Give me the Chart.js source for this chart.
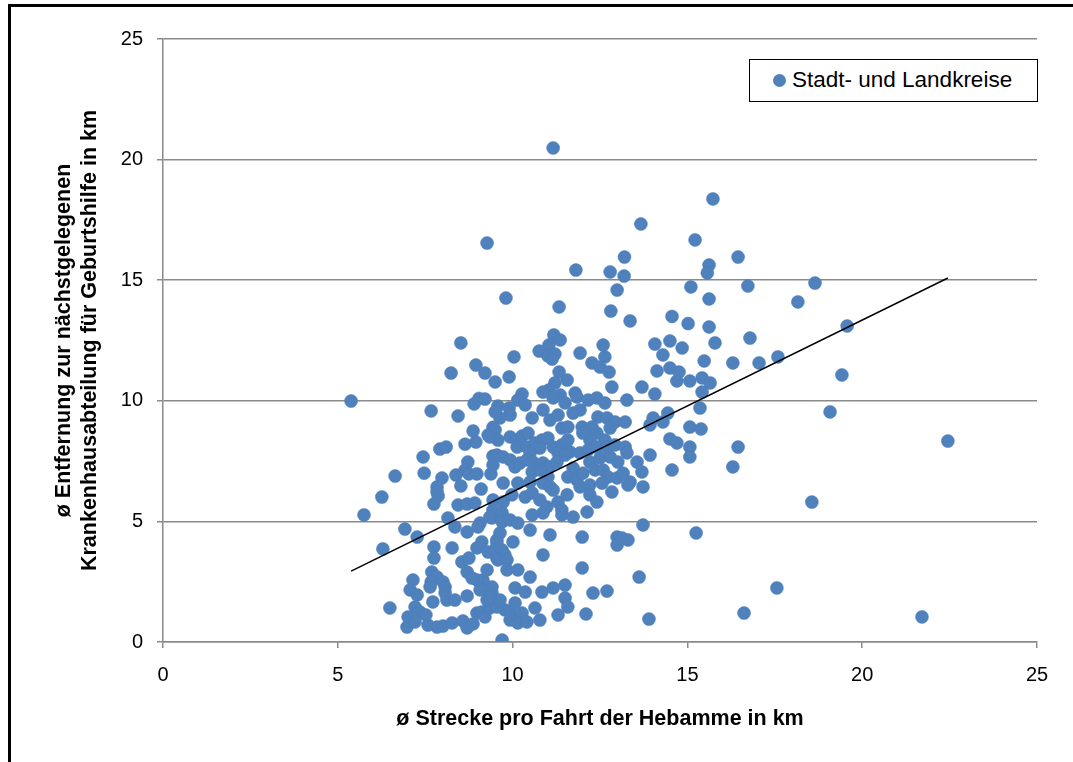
<!DOCTYPE html>
<html>
<head>
<meta charset="utf-8">
<script src="https://cdn.jsdelivr.net/npm/chart.js@4/dist/chart.umd.min.js"></script>
<style>
  body { margin: 0; background: #fff; }
  #wrap { position: relative; width: 1073px; height: 762px; font-family: "Liberation Sans", Arial, sans-serif; }
  #frame { position: absolute; left: 8px; top: 4px; right: -5px; bottom: -5px; border-left: 3px solid #000; border-top: 3px solid #000; }
  #legend { position: absolute; left: 749px; top: 59px; width: 289px; height: 43px; border: 1.5px solid #000; background: #fff; box-sizing: border-box; display: flex; align-items: center; }
  #legend .dot { margin-left: 23px; width: 13px; height: 13px; border-radius: 50%; background: #4F81BD; flex: none; }
  #legend .txt { margin-left: 6px; font-size: 22.5px; color: #000; white-space: nowrap; line-height: 1; }
</style>
</head>
<body>
<div id="wrap">
  <canvas id="chart" width="1073" height="762"></canvas>
  <div id="frame"></div>
  <div id="legend"><span class="dot"></span><span class="txt">Stadt- und Landkreise</span></div>
</div>
<script>
// ø Strecke pro Fahrt (x) und ø Entfernung zur Geburtshilfe (y), je Kreis
const strecke = [
  11.16, 9.27, 13.67, 15.73, 15.22, 16.45, 15.62, 15.57, 13.2, 11.81, 12.79, 13.19, 9.81, 12.99, 15.1, 15.62,
  16.73, 18.16, 18.65, 11.33, 12.81, 13.36, 14.56, 15.02, 15.62, 19.57, 16.79, 15.79, 17.05, 17.59, 16.3,
  14.07, 14.5, 14.85, 14.3, 15.48, 14.13, 14.5, 14.76, 14.7, 15.07, 15.42, 15.65, 15.42, 14.07, 19.42,
  15.36, 14.44, 14.02, 14.3, 13.93, 15.07, 15.39, 19.08, 14.5, 14.7, 15.07, 15.07, 13.93, 16.45, 16.3, 14.56, 22.45,
  8.52, 8.95, 8.24, 9.21, 9.5, 5.38, 8.9, 9.04, 9.21, 7.67, 8.44, 8.87, 9.3, 9.44, 8.64, 8.95, 7.92, 8.1,
  7.44, 8.72, 9.44, 9.44, 6.64, 7.47, 7.98, 8.38, 8.64, 8.75, 8.98, 9.38, 7.84, 8.52, 9.1,
  6.26, 5.75, 6.92, 7.27, 6.29, 7.84, 7.87, 7.75, 8.44, 8.7, 8.92, 8.15, 8.35, 8.27, 8.7, 9.07, 9.01, 9.41, 9.44,
  7.75, 7.75, 8.55, 8.75, 8.98, 9.12, 9.3, 9.55, 7.69, 7.84, 7.67, 8.01, 8.07, 7.64, 7.15, 7.07, 7.27, 7.21,
  7.35, 7.52, 6.49, 7.01, 6.98, 7.21, 7.72, 8.12, 8.35, 8.7, 8.07, 7.58, 7.84, 8.01, 8.27, 8.58, 8.7, 8.87,
  8.98, 9.12, 9.21, 9.35, 9.27, 9.41, 9.41, 9.15, 9.27, 8.98, 8.7, 8.84, 9.07, 9.55, 9.5,
  11.18, 11.36, 11.04, 10.76, 11.01, 11.21, 11.13, 10.04, 11.93, 12.59, 12.64, 12.27, 12.5, 12.76, 11.33,
  11.56, 11.21, 11.04, 10.87, 11.36, 11.16, 11.5, 11.79, 11.84, 9.9, 10.27, 10.15, 10.36, 12.84, 13.7, 13.27,
  12.16, 12.41, 12.64, 9.58, 9.9, 9.93, 9.64, 9.5, 10.56, 10.87, 11.07, 11.3, 11.41, 11.58, 11.93, 11.73,
  11.99, 12.44, 12.7, 12.93, 13.22, 12.79, 12.27, 12.41, 12.64, 12.21, 12.01, 9.5, 9.58, 9.35, 9.93, 10.13,
  10.27, 10.44, 10.13, 10.41, 10.64, 10.84, 11.01, 10.78, 10.5, 11.16, 11.41, 11.58, 11.64, 11.3, 11.5,
  11.93, 12.16, 12.41, 12.7, 12.93, 13.22, 12.21, 12.5, 12.79, 13.01, 13.27, 13.56, 9.55, 9.73, 9.93, 10.07,
  10.21, 10.41, 10.58, 10.87, 11.07, 11.27, 10.56, 10.78, 11.01, 11.73, 11.58, 11.84, 12.01, 12.36, 12.59,
  12.73, 12.99, 13.16, 13.36, 13.7, 13.3, 9.73, 10.15, 10.5, 10.87, 11.07, 11.93, 12.21, 12.56, 13.73,
  11.16, 11.56, 12.21, 12.41, 12.84, 9.44, 9.73, 9.98, 10.36, 10.56, 10.78, 10.98, 10.87, 10.56, 10.5,
  11.3, 11.41, 11.41, 11.73, 12.13, 9.35, 9.7, 9.7, 9.93, 10.15, 9.64, 9.55, 9.7, 9.78, 9.58, 9.84, 10.01,
  9.84, 10.15, 11.07, 10.87, 11.99, 11.99, 12.99, 13.13, 13.3, 12.99, 13.73, 10.5, 10.07, 10.36, 10.84,
  11.16, 11.5, 11.5, 11.58, 11.3, 10.64, 10.78, 10.13, 9.78, 9.55, 9.35, 12.3, 12.7, 12.1, 13.62, 13.9,
  9.7, 9.93, 10.27, 9.93, 10.15, 10.41, 9.64, 10.07, 18.56, 15.25, 17.56, 16.62, 21.71
];
const entfernung = [
  20.48, 16.54, 17.33, 18.37, 16.67, 15.96, 15.63, 15.3, 15.96, 15.42, 15.34, 15.17, 14.26, 14.59, 14.72, 14.22,
  14.76, 14.1, 14.88, 13.89, 13.72, 13.31, 13.5, 13.2, 13.06, 13.1, 12.6, 12.4, 11.57, 11.82, 11.57,
  12.35, 12.48, 12.19, 11.9, 11.65, 11.24, 11.36, 11.19, 10.82, 10.82, 10.95, 10.74, 10.36, 10.28, 11.07,
  9.7, 9.49, 9.29, 9.12, 9.0, 8.91, 8.83, 9.54, 8.42, 8.25, 8.08, 7.67, 7.75, 8.08, 7.26, 7.13, 8.33,
  12.4, 11.48, 11.15, 11.15, 10.78, 9.99, 9.87, 10.1, 10.07, 9.58, 9.37, 8.75, 8.58, 8.9, 8.2, 8.29, 8.0, 8.08,
  7.67, 7.46, 7.71, 7.34, 6.88, 7.0, 6.8, 6.92, 7.13, 6.97, 6.97, 6.97, 6.43, 6.47, 6.34,
  6.01, 5.27, 4.68, 4.35, 3.86, 6.22, 6.05, 5.72, 5.68, 5.72, 5.76, 5.14, 4.77, 3.9, 4.56, 4.93, 4.77, 5.14, 5.47,
  3.94, 3.48, 3.32, 3.48, 3.9, 4.15, 3.73, 3.48, 2.9, 2.69, 2.49, 2.49, 2.28, 2.28, 2.57, 2.16, 1.95, 1.45,
  1.24, 1.12, 1.41, 1.04, 0.62, 0.83, 1.66, 1.74, 1.74, 1.91, 2.03, 0.7, 0.62, 0.66, 0.79, 0.87, 0.58, 0.75,
  1.2, 1.24, 1.04, 1.41, 1.74, 2.03, 2.28, 2.57, 2.99, 2.57, 2.9, 2.65, 2.16, 4.23, 3.81,
  12.73, 12.52, 12.31, 12.06, 11.86, 11.94, 11.73, 11.82, 11.98, 12.31, 11.82, 11.57, 11.4, 11.19, 11.19,
  10.86, 10.74, 10.45, 10.36, 10.24, 10.12, 9.91, 10.32, 10.16, 10.99, 10.28, 10.03, 9.83, 10.57, 10.57, 10.03,
  10.03, 10.12, 9.91, 9.78, 9.7, 9.41, 9.29, 9.54, 9.29, 9.62, 9.2, 9.41, 8.87, 8.91, 9.62, 9.49,
  8.91, 9.33, 9.29, 9.12, 9.12, 8.87, 8.91, 8.66, 8.37, 8.37, 8.66, 8.79, 8.37, 8.5, 8.5, 8.37,
  8.54, 8.66, 8.08, 8.08, 8.25, 8.37, 8.46, 8.04, 7.84, 8.08, 8.17, 8.37, 7.88, 7.84, 7.75,
  7.84, 7.96, 8.08, 8.08, 8.17, 8.08, 7.46, 7.63, 7.67, 7.46, 7.84, 7.46, 7.75, 7.67, 7.55, 7.26,
  7.42, 7.55, 7.46, 7.42, 7.26, 7.46, 7.05, 7.13, 6.84, 7.21, 6.84, 6.72, 7.0, 7.13, 7.13,
  6.84, 6.8, 7.0, 6.63, 7.05, 6.51, 6.59, 6.59, 6.63, 6.59, 6.43, 6.43, 6.51, 6.59, 6.43,
  6.3, 6.1, 6.1, 5.8, 6.22, 5.89, 5.8, 6.1, 6.01, 6.18, 5.89, 5.6, 5.35, 5.27, 4.64,
  5.8, 5.47, 5.27, 5.18, 5.39, 5.18, 5.35, 4.98, 5.06, 4.93, 4.52, 4.1, 3.81, 3.61, 3.4, 3.4, 4.15,
  2.99, 2.99, 4.44, 3.61, 4.35, 3.07, 4.35, 4.31, 4.23, 4.02, 4.85, 2.69, 2.24, 2.07, 2.07,
  2.24, 2.36, 1.82, 1.45, 1.12, 1.41, 0.91, 1.04, 1.33, 1.45, 1.87, 2.03, 2.11, 1.16, 2.69, 0.95,
  0.08, 1.24, 1.2, 0.91, 0.79, 0.83, 1.74, 1.62, 5.8, 4.52, 2.24, 1.2, 1.04
];
// lineare Trendlinie, Endpunkte
const trendX = [5.38, 22.45];
const trendY = [2.94, 15.09];
const xTicks = [0, 5, 10, 15, 20, 25];

const pts = strecke.map((x, i) => ({ x: x, y: entfernung[i] }));
const trend = trendX.map((x, i) => ({ x: x, y: trendY[i] }));
const gray = "#8a8a8a";

new Chart(document.getElementById("chart"), {
  type: "scatter",
  data: {
    datasets: [
      {
        label: "Trend",
        data: trend,
        showLine: true,
        borderColor: "#000",
        borderWidth: 1.5,
        pointRadius: 0,
        order: 0,
      },
      {
        label: "Stadt- und Landkreise",
        data: pts,
        backgroundColor: "#4F81BD",
        borderColor: "#4A7DBA",
        borderWidth: 0.5,
        pointRadius: 6.5,
        order: 1,
      },
    ],
  },
  options: {
    responsive: false,
    animation: false,
    layout: { padding: { top: 39, right: 36, left: 0, bottom: 0 } },
    plugins: { legend: { display: false }, tooltip: { enabled: false } },
    scales: {
      x: {
        type: "linear",
        min: 0,
        max: 25,
        afterBuildTicks: (s) => { s.ticks = xTicks.map((v) => ({ value: v })); },
        afterFit: (s) => { s.height = 120; },
        ticks: { color: "#000", font: { size: 20, family: "Liberation Sans" }, padding: 15 },
        grid: { drawOnChartArea: false, color: gray, lineWidth: 1.5, tickLength: 6 },
        border: { color: gray, width: 1.5 },
        title: {
          display: true,
          text: "ø Strecke pro Fahrt der Hebamme in km",
          color: "#000",
          font: { size: 21.5, weight: "bold", family: "Liberation Sans", lineHeight: 1.2 },
          padding: { top: 0, bottom: 30 },
        },
      },
      y: {
        min: 0,
        max: 25,
        afterFit: (s) => { s.width = 163; },
        ticks: { stepSize: 5, color: "#000", font: { size: 20, family: "Liberation Sans" }, padding: 14 },
        grid: { color: gray, lineWidth: 1.5, tickLength: 6 },
        border: { color: gray, width: 1.5 },
        title: {
          display: true,
          text: ["ø Entfernung zur nächstgelegenen", "Krankenhausabteilung für Geburtshilfe in km"],
          color: "#000",
          font: { size: 21.5, weight: "bold", family: "Liberation Sans", lineHeight: 1.17 },
          padding: { top: 52, bottom: 0 },
        },
      },
    },
  },
});
</script>
</body>
</html>
